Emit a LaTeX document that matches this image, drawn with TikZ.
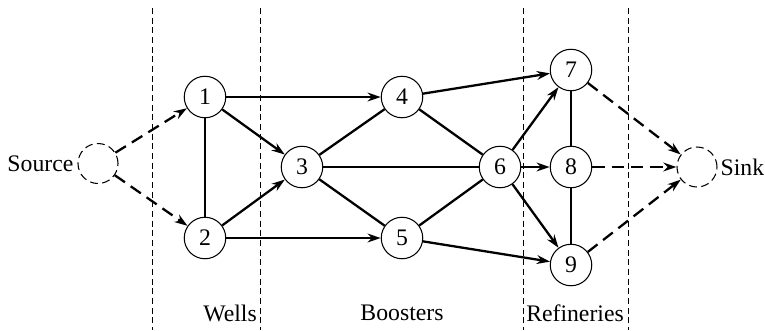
\documentclass[tikz,border=0pt]{standalone}
\usepackage{fontspec}
\setmainfont{Liberation Serif}
\usetikzlibrary{arrows.meta, positioning}

\begin{document}
\begin{tikzpicture}[
    station/.style = {circle, draw, line width=0.6pt, minimum size=0.83cm, inner sep=0pt, font=\fontsize{13.5}{16}\selectfont},
    ghost/.style = {circle, draw, line width=0.6pt, dash pattern=on 4.5pt off 2.5pt, minimum size=0.8cm, inner sep=0pt},
    flow/.style = {-{Stealth[length=7.5pt, width=5pt]}, line width=1.3pt},
    link/.style = {line width=1.3pt},
    thinlink/.style = {line width=0.7pt},
    dflow/.style = {flow, dash pattern=on 7pt off 4pt},
    divider/.style = {line width=0.5pt, dash pattern=on 3.5pt off 2pt},
    zone/.style = {font=\fontsize{13.5}{16}\selectfont}
]
\useasboundingbox (0,0) rectangle (15.3,-6.6);

% dividers
\coordinate (d1t) at (3.04,-0.16);  \coordinate (d1b) at (3.04,-6.6);
\coordinate (d2t) at (5.20,-0.16);  \coordinate (d2b) at (5.20,-6.6);
\coordinate (d3t) at (10.46,-0.16); \coordinate (d3b) at (10.46,-6.6);
\coordinate (d4t) at (12.56,-0.16); \coordinate (d4b) at (12.56,-6.6);
\draw [divider] (d1t) -- (d1b);
\draw [divider] (d2t) -- (d2b);
\draw [divider] (d3t) -- (d3b);
\draw [divider] (d4t) -- (d4b);

% nodes
\node (src) [ghost] at (1.96,-3.27) {};
\node (srclabel) [left=0.04cm of src, zone, inner xsep=1pt] {Source};
\node (n1) [station] at (4.10,-1.94) {1};
\node (n2) [station] at (4.10,-4.76) {2};
\node (n3) [station] at (6.04,-3.34) {3};
\node (n4) [station] at (8.04,-1.94) {4};
\node (n5) [station] at (8.04,-4.76) {5};
\node (n6) [station] at (10.00,-3.34) {6};
\node (n7) [station] at (11.42,-1.40) {7};
\node (n8) [station] at (11.42,-3.34) {8};
\node (n9) [station] at (11.42,-5.30) {9};
\node (snk) [ghost] at (13.94,-3.34) {};
\node (snklabel) [right=0.02cm of snk, zone, inner xsep=1pt] {Sink};

\node (wells) [zone] at (4.60,-6.26) {Wells};
\node (boosters) [zone] at (8.04,-6.26) {Boosters};
\node (refineries) [zone] at (11.50,-6.26) {Refineries};

% edges
\draw [dflow] (src) -- (n1);
\draw [dflow] (src) -- (n2);
\draw [link] (n1) -- (n2);
\draw [flow] (n1) -- (n4);
\draw [flow] (n1) -- (n3);
\draw [flow] (n2) -- (n3);
\draw [flow] (n2) -- (n5);
\draw [link] (n3) -- (n4);
\draw [link] (n3) -- (n6);
\draw [link] (n3) -- (n5);
\draw [link] (n4) -- (n6);
\draw [link] (n5) -- (n6);
\draw [flow] (n4) -- (n7);
\draw [flow] (n5) -- (n9);
\draw [flow] (n6) -- (n7);
\draw [flow] (n6) -- (n8);
\draw [flow] (n6) -- (n9);
\draw [thinlink] (n7) -- (n8);
\draw [thinlink] (n8) -- (n9);
\draw [dflow] (n7) -- (snk);
\draw [dflow] (n8) -- (snk);
\draw [dflow] (n9) -- (snk);

\end{tikzpicture}
\end{document}
